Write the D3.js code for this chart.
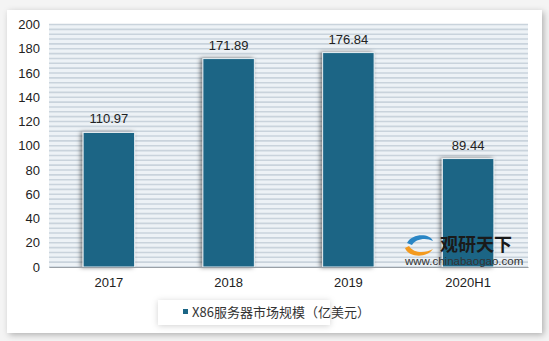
<!DOCTYPE html>
<html>
<head>
<meta charset="utf-8">
<script src="https://cdn.jsdelivr.net/npm/d3@7"></script>
<style>
  body { margin: 0; background: #f4f4f4; }
  svg { display: block; }
</style>
</head>
<body>
<div id="chart"></div>
<script>
const categories = ['2017', '2018', '2019', '2020H1'];
const values = [110.97, 171.89, 176.84, 89.44];
const yTicks = [0, 20, 40, 60, 80, 100, 120, 140, 160, 180, 200];
const seriesName = 'X86服务器市场规模（亿美元）';

const W = 549, H = 341;
const margin = { top: 24.5, right: 21, bottom: 74, left: 49 };
const innerW = W - margin.left - margin.right;
const innerH = H - margin.top - margin.bottom;

const svg = d3.select('#chart').append('svg')
  .attr('width', W)
  .attr('height', H);

const defs = svg.append('defs');
defs.append('filter').attr('id', 'card-shadow')
  .attr('x', '-5%').attr('y', '-5%').attr('width', '110%').attr('height', '110%')
  .append('feDropShadow')
  .attr('dx', 2).attr('dy', 2).attr('stdDeviation', 3)
  .attr('flood-color', '#000').attr('flood-opacity', 0.28);
defs.append('filter').attr('id', 'bar-shadow')
  .attr('x', '-30%').attr('y', '-10%').attr('width', '160%').attr('height', '120%')
  .append('feDropShadow')
  .attr('dx', -2).attr('dy', 0).attr('stdDeviation', 2)
  .attr('flood-color', '#000').attr('flood-opacity', 0.5);
defs.append('filter').attr('id', 'legend-shadow')
  .attr('x', '-10%').attr('y', '-30%').attr('width', '120%').attr('height', '160%')
  .append('feDropShadow')
  .attr('dx', 0).attr('dy', 1).attr('stdDeviation', 3)
  .attr('flood-color', '#000').attr('flood-opacity', 0.18);

// card
svg.append('rect')
  .attr('x', 7).attr('y', 10)
  .attr('width', 535).attr('height', 323)
  .attr('fill', '#fff')
  .attr('filter', 'url(#card-shadow)');

const g = svg.append('g')
  .attr('transform', `translate(${margin.left},${margin.top})`);

const x = d3.scaleBand()
  .domain(categories)
  .range([0, innerW])
  .paddingInner(0.57)
  .paddingOuter(0.285);

const y = d3.scaleLinear()
  .domain([0, 200])
  .range([innerH, 0]);

// striped background
g.append('rect')
  .attr('width', innerW).attr('height', innerH)
  .attr('fill', '#edf2f6');

const stripes = d3.range(0, 201, 4);
g.selectAll('.stripe')
  .data(stripes)
  .enter().append('line')
  .attr('class', 'stripe')
  .attr('x1', 0).attr('x2', innerW)
  .attr('y1', d => y(d)).attr('y2', d => y(d))
  .attr('stroke', '#c9d3dc')
  .attr('stroke-width', 1.6);

// y axis labels
g.append('g')
  .call(d3.axisLeft(y).tickValues(yTicks).tickSize(0).tickPadding(9))
  .call(a => a.select('.domain').remove())
  .selectAll('text')
  .attr('font-family', 'Liberation Sans, Arial, sans-serif')
  .attr('font-size', 13)
  .attr('fill', '#222');

// bars
g.selectAll('.bar')
  .data(values)
  .enter().append('rect')
  .attr('class', 'bar')
  .attr('x', (d, i) => x(categories[i]))
  .attr('y', d => y(d))
  .attr('width', x.bandwidth())
  .attr('height', d => innerH - y(d))
  .attr('fill', '#1b6585')
  .attr('stroke', '#e8eef2')
  .attr('stroke-width', 1)
  .attr('filter', 'url(#bar-shadow)');

// value labels
g.selectAll('.val')
  .data(values)
  .enter().append('text')
  .attr('class', 'val')
  .attr('x', (d, i) => x(categories[i]) + x.bandwidth() / 2)
  .attr('y', d => y(d) - 9)
  .attr('text-anchor', 'middle')
  .attr('font-family', 'Liberation Sans, Arial, sans-serif')
  .attr('font-size', 13)
  .attr('fill', '#222')
  .text(d => d.toFixed(2));

// x axis
g.append('g')
  .attr('transform', `translate(0,${innerH})`)
  .call(d3.axisBottom(x).tickSize(0).tickPadding(11))
  .call(a => a.select('.domain').attr('stroke', '#9aa0a6').attr('stroke-width', 1.2))
  .selectAll('text')
  .attr('font-family', 'Liberation Sans, Arial, sans-serif')
  .attr('font-size', 13)
  .attr('fill', '#222');

// watermark
const wm = svg.append('g').attr('transform', 'translate(404,235)');
wm.append('path')
  .attr('d', 'M3,8 C8,-2 26,-2 29,6 C22,2 11,4 8,10 Z')
  .attr('fill', '#2a86c5');
wm.append('path')
  .attr('d', 'M1,13 C4,22 22,24 29,14 C22,18 10,19 5,11 Z')
  .attr('fill', '#f39a1e');
wm.append('text')
  .attr('x', 36).attr('y', 16)
  .attr('font-family', 'Noto Sans CJK SC, sans-serif')
  .attr('font-weight', 'bold')
  .attr('font-size', 18)
  .attr('fill', '#1a1a1a')
  .text('观研天下');
wm.append('text')
  .attr('x', 1).attr('y', 30)
  .attr('font-family', 'Liberation Sans, Arial, sans-serif')
  .attr('font-size', 11.5)
  .attr('fill', '#333')
  .text('www.chinabaogao.com');

// legend
const lg = svg.append('g').attr('transform', 'translate(158,300)');
lg.append('rect')
  .attr('width', 172).attr('height', 25)
  .attr('fill', '#fff')
  .attr('filter', 'url(#legend-shadow)');
lg.append('rect')
  .attr('x', 25).attr('y', 9)
  .attr('width', 5).attr('height', 5)
  .attr('fill', '#1b6585');
lg.append('text')
  .attr('x', 34).attr('y', 17)
  .attr('font-family', 'Noto Sans CJK SC, sans-serif')
  .attr('font-size', 13)
  .attr('fill', '#333')
  .text(seriesName);
</script>
</body>
</html>
